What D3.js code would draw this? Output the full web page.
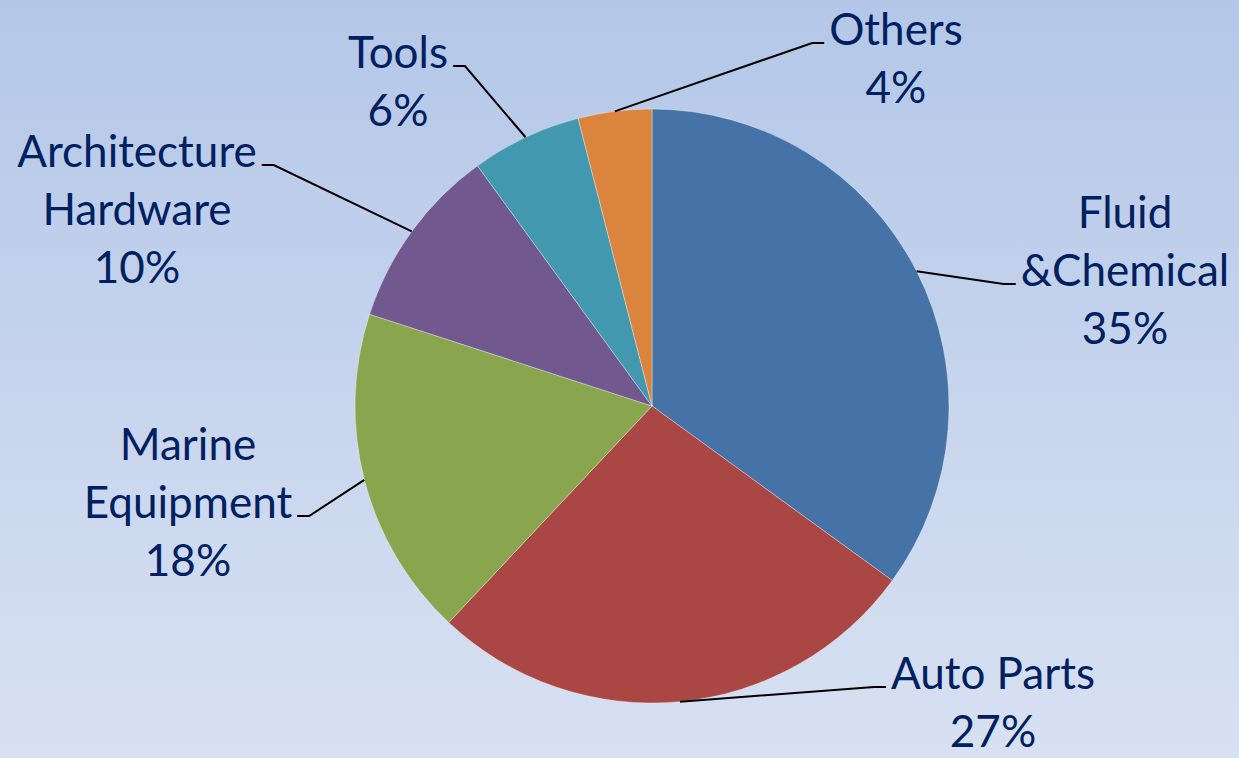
<!DOCTYPE html>
<html>
<head>
<meta charset="utf-8">
<script src="https://cdn.jsdelivr.net/npm/d3@7"></script>
<style>
  html, body { margin: 0; padding: 0; overflow: hidden; }
  svg { display: block; }
</style>
</head>
<body>
<svg id="chart" width="1239" height="758"></svg>
<script>
// data
var categories = ["Fluid\n&Chemical", "Auto Parts", "Marine\nEquipment", "Architecture\nHardware", "Tools", "Others"];
var shares = [35, 27, 18, 10, 6, 4];
var colors = ["#4572a7", "#aa4643", "#89a54e", "#71588f", "#4198af", "#db843d"];

// label layout: text centre (dx, dy of first baseline from pie centre), side, row the leader joins
var labelLayout = [
  { dx: 473, dy: -178, side: "right", row: 1 },
  { dx: 341, dy: 283, side: "right", row: 0 },
  { dx: -464, dy: 54, side: "left", row: 1 },
  { dx: -515, dy: -239, side: "left", row: 0 },
  { dx: -254, dy: -338, side: "left", row: 0 },
  { dx: 244, dy: -361, side: "right", row: 0 }
];

var svg = d3.select("#chart"),
  width = +svg.attr("width"),
  height = +svg.attr("height");

var defs = svg.append("defs");
var grad = defs.append("linearGradient")
  .attr("id", "bg")
  .attr("x1", 0).attr("y1", 0).attr("x2", 0).attr("y2", 1);
grad.append("stop").attr("offset", "0%").attr("stop-color", "#b4c7e8");
grad.append("stop").attr("offset", "100%").attr("stop-color", "#d8e1f2");

svg.append("rect")
  .attr("width", width)
  .attr("height", height)
  .attr("fill", "url(#bg)");

var cx = 652, cy = 406, radius = 297;

var pie = d3.pie().sort(null).value(function (d) { return d; });
var arcs = pie(shares);

var arc = d3.arc().innerRadius(0).outerRadius(radius);

var g = svg.append("g")
  .attr("transform", "translate(" + cx + "," + cy + ")");

g.selectAll("path.slice")
  .data(arcs)
  .enter()
  .append("path")
  .attr("class", "slice")
  .attr("d", arc)
  .attr("fill", function (d, i) { return colors[i]; })
  .attr("stroke", "rgba(255,255,255,0.35)")
  .attr("stroke-width", 1);

var fontSize = 44, lineH = 58;

arcs.forEach(function (d, i) {
  var mid = (d.startAngle + d.endAngle) / 2;
  var px = radius * Math.sin(mid), py = -radius * Math.cos(mid);
  var lay = labelLayout[i];
  var lines = categories[i].split("\n").concat([shares[i] + "%"]);

  var text = g.append("text")
    .attr("text-anchor", "middle")
    .attr("fill", "#002060")
    .style("font-family", "Lato, 'Open Sans', sans-serif")
    .style("font-size", fontSize + "px");
  lines.forEach(function (s, k) {
    text.append("tspan")
      .attr("x", lay.dx)
      .attr("y", lay.dy + k * lineH)
      .text(s);
  });

  var w = text.selectAll("tspan").nodes()[lay.row].getComputedTextLength();
  var ly = lay.dy + lay.row * lineH - 2;
  var ex = lay.side === "left" ? lay.dx + w / 2 + 5 : lay.dx - w / 2 - 5;
  var kx = lay.side === "left" ? ex + 12 : ex - 12;

  g.append("polyline")
    .attr("points", [[ex, ly], [kx, ly], [px, py]].map(function (p) { return p.join(","); }).join(" "))
    .attr("fill", "none")
    .attr("stroke", "#000")
    .attr("stroke-width", 2);
});
</script>
</body>
</html>
